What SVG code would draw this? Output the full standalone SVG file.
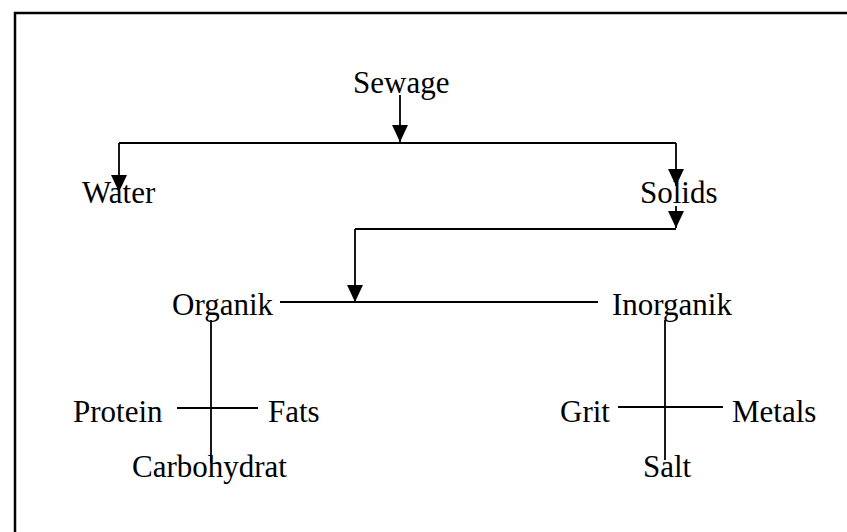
<svg xmlns="http://www.w3.org/2000/svg" width="847" height="532" viewBox="0 0 847 532">
<style>
text{font-family:"Liberation Serif","Times New Roman",serif;font-size:31px;fill:#000}
.c{stroke:#000;stroke-width:1.8;fill:none}
.frame{stroke:#000;stroke-width:2.5;fill:none}
</style>
<defs>
<marker id="ah" markerUnits="userSpaceOnUse" markerWidth="16" markerHeight="18" refX="8" refY="17" orient="0" viewBox="0 0 16 18">
<path d="M0,0 L16,0 L8,17 Z" fill="#000"/>
</marker>
</defs>
<rect width="847" height="532" fill="#fff"/>
<path class="frame" d="M15,540 L15,13 L850,13"/>
<g id="connectors">
<path class="c" d="M400,95 L400,142" marker-end="url(#ah)"/>
<path class="c" d="M119,143 L676,143"/>
<path class="c" d="M119,143 L119,192" marker-end="url(#ah)"/>
<path class="c" d="M676,143 L676,186" marker-end="url(#ah)"/>
<path class="c" d="M676,206 L676,228" marker-end="url(#ah)"/>
<path class="c" d="M355,229 L676,229"/>
<path class="c" d="M355,229 L355,302" marker-end="url(#ah)"/>
<path class="c" d="M280,302 L598,302"/>
<path class="c" d="M211,320 L211,463"/>
<path class="c" d="M177,408 L258,408"/>
<path class="c" d="M665,320 L665,460"/>
<path class="c" d="M618,407 L723,407"/>
</g>
<g id="sewage"><text x="353" y="93">Sewage</text></g>
<g id="water"><text x="82" y="203">Water</text></g>
<g id="solids"><text x="640" y="203">Solids</text></g>
<g id="organik"><text x="172" y="315">Organik</text></g>
<g id="inorganik"><text x="612" y="315">Inorganik</text></g>
<g id="protein"><text x="73" y="422">Protein</text></g>
<g id="fats"><text x="268" y="422">Fats</text></g>
<g id="carbohydrat"><text x="132" y="477">Carbohydrat</text></g>
<g id="grit"><text x="560" y="422">Grit</text></g>
<g id="metals"><text x="732" y="422">Metals</text></g>
<g id="salt"><text x="643" y="477">Salt</text></g>
</svg>
